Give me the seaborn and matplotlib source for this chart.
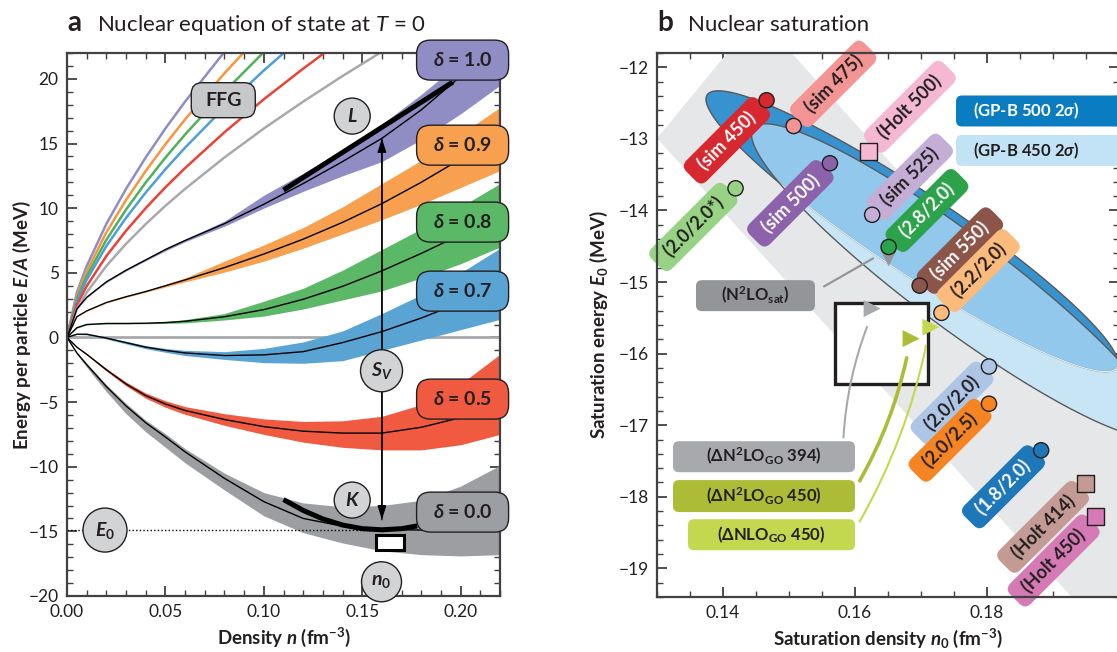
import numpy as np
import pandas as pd
import matplotlib
matplotlib.use("Agg")
import matplotlib.pyplot as plt
import matplotlib.transforms as mtransforms
from matplotlib.patches import FancyBboxPatch, Circle, Rectangle, Polygon, FancyArrowPatch
from matplotlib.ticker import MultipleLocator, FixedLocator, FormatStrFormatter
import seaborn as sns

FONT = "Lato"
sns.set_theme(style="ticks")
plt.rcParams["font.family"] = [FONT, "DejaVu Sans"]
plt.rcParams.update({
    "mathtext.fontset": "custom",
    "mathtext.rm": f"{FONT}:bold",
    "mathtext.bf": f"{FONT}:bold",
    "mathtext.it": f"{FONT}:italic:bold",
    "mathtext.sf": f"{FONT}:italic",
    "axes.unicode_minus": True,
})
INK = "#231f20"
AXIS = "#414042"

# ---------------------------------------------------------------- panel a data
density = [0.0, 0.005, 0.01, 0.02, 0.03, 0.04, 0.05, 0.06, 0.08, 0.10, 0.12, 0.14, 0.16, 0.18, 0.20, 0.22]

# energy per particle (MeV): central curve and uncertainty band for each asymmetry
ea_d10 = [0, 2.2, 3.1, 4.3, 5.2, 6.0, 6.8, 7.5, 8.8, 10.3, 11.9, 13.6, 15.4, 17.6, 20.2, 22.9]
lo_d10 = [0, 2.17, 3.06, 4.25, 5.14, 5.93, 6.7, 7.4, 8.6, 10.0, 11.3, 12.5, 13.6, 15.3, 17.3, 19.5]
hi_d10 = [0, 2.23, 3.14, 4.35, 5.26, 6.07, 6.9, 7.6, 9.0, 11.0, 12.7, 14.5, 16.5, 18.8, 21.3, 24.0]

ea_d09 = [0, 1.6, 2.05, 2.7, 3.15, 3.55, 4.0, 4.45, 5.4, 6.45, 7.6, 8.9, 10.35, 12.0, 13.8, 15.6]
lo_d09 = [0, 1.59, 2.03, 2.67, 3.1, 3.5, 3.9, 4.3, 5.05, 5.9, 6.9, 8.0, 9.1, 10.3, 11.6, 12.9]
hi_d09 = [0, 1.61, 2.07, 2.73, 3.2, 3.6, 4.1, 4.6, 5.9, 7.15, 8.5, 10.1, 11.9, 13.7, 15.7, 17.8]

ea_d08 = [0, 0.75, 1.0, 1.08, 1.08, 1.1, 1.15, 1.25, 1.6, 2.15, 2.95, 3.95, 5.15, 6.5, 7.95, 9.5]
lo_d08 = [0, 0.72, 0.97, 1.05, 1.05, 1.06, 1.08, 1.12, 1.35, 1.65, 2.2, 2.9, 3.6, 4.6, 5.7, 7.0]
hi_d08 = [0, 0.78, 1.03, 1.11, 1.11, 1.14, 1.22, 1.38, 1.85, 2.8, 3.8, 5.2, 6.8, 8.4, 10.1, 11.9]

ea_d07 = [0, 0.25, 0.25, -0.05, -0.4, -0.75, -1.0, -1.2, -1.4, -1.35, -1.1, -0.4, 0.45, 1.5, 2.7, 4.0]
lo_d07 = [0, 0.22, 0.2, -0.12, -0.5, -0.87, -1.15, -1.4, -1.7, -1.95, -2.0, -1.8, -1.0, -0.2, 0.6, 1.4]
hi_d07 = [0, 0.28, 0.3, 0.02, -0.3, -0.63, -0.85, -1.0, -1.1, -0.85, -0.35, 0.5, 1.85, 3.3, 5.0, 6.9]

ea_d05 = [0, -0.75, -1.3, -2.5, -3.6, -4.5, -5.15, -5.65, -6.35, -6.9, -7.25, -7.4, -7.4, -6.95, -6.2, -5.3]
lo_d05 = [0, -0.78, -1.35, -2.6, -3.75, -4.7, -5.4, -5.95, -6.8, -7.5, -8.1, -8.5, -8.7, -8.7, -8.3, -7.5]
hi_d05 = [0, -0.72, -1.25, -2.4, -3.45, -4.3, -4.9, -5.35, -5.9, -6.3, -6.5, -6.45, -6.1, -5.2, -3.6, -1.3]

ea_d00 = [0, -1.2, -2.1, -3.8, -5.3, -6.6, -7.7, -8.85, -10.9, -12.7, -14.0, -14.6, -14.85, -14.9, -14.6, -13.9]
lo_d00 = [0, -1.3, -2.3, -4.2, -5.9, -7.3, -8.5, -9.7, -11.8, -13.8, -15.1, -15.9, -16.5, -16.8, -16.9, -16.8]
hi_d00 = [0, -1.15, -2.0, -3.65, -5.1, -6.4, -7.45, -8.6, -10.5, -12.0, -12.8, -13.1, -13.0, -12.6, -11.5, -9.9]

# free Fermi gas energies (MeV)
ffg_d10 = [0, 3.48, 5.52, 8.78, 11.49, 13.92, 16.16, 18.24, 22.09, 25.65, 28.95, 32.09, 35.07, 37.95, 40.69, 43.37]
ffg_d09 = [0, 3.21, 5.11, 8.12, 10.63, 12.87, 14.94, 16.87, 20.43, 23.72, 26.78, 29.68, 32.44, 35.10, 37.64, 40.12]
ffg_d08 = [0, 2.99, 4.75, 7.55, 9.89, 11.98, 13.91, 15.70, 19.01, 22.07, 24.92, 27.62, 30.19, 32.66, 35.02, 37.33]
ffg_d07 = [0, 2.80, 4.45, 7.07, 9.25, 11.21, 13.01, 14.68, 17.79, 20.65, 23.31, 25.84, 28.24, 30.56, 32.77, 34.93]
ffg_d05 = [0, 2.50, 3.97, 6.30, 8.25, 10.00, 11.61, 13.10, 15.87, 18.42, 20.79, 23.05, 25.19, 27.26, 29.23, 31.16]
ffg_d00 = [0, 2.19, 3.48, 5.53, 7.24, 8.77, 10.18, 11.49, 13.92, 16.16, 18.24, 20.22, 22.10, 23.91, 25.64, 27.33]

deltas = [1.0, 0.9, 0.8, 0.7, 0.5, 0.0]
delta_labels = ["1.0", "0.9", "0.8", "0.7", "0.5", "0.0"]

# slope (L) and curvature (K) segments, saturation point
l_line_n = [0.11, 0.196]
l_line_E = [11.4, 19.75]
k_line_n = [0.11, 0.12, 0.13, 0.14, 0.15, 0.16, 0.17, 0.178]
k_line_E = [-12.54, -13.38, -14.04, -14.51, -14.79, -14.88, -14.79, -14.58]
sat_density = 0.16
sat_energy = -14.88
sv_arrow_E = [-14.1, 15.4]

# empirical saturation region
emp_n0 = [0.157, 0.171]
emp_E0 = [-16.43, -15.29]

# ---------------------------------------------------------------- panel b data
coester_n = [0.130, 0.1453, 0.2307, 0.1987]
coester_E = [-12.99, -11.28, -20.0, -20.0]

gpb500_mean = [0.16864, -14.29]
gpb500_cov = [[0.0002436, -0.01439], [-0.01439, 0.9621]]
gpb450_mean = [0.17548, -14.98]
gpb450_cov = [[0.0002428, -0.0159], [-0.0159, 1.200]]

sat_names = ["(sim 450)", "(sim 475)", "(Holt 500)", "(sim 500)", "(2.0/2.0*)", "(sim 525)",
             "(2.8/2.0)", "(sim 550)", "(2.2/2.0)", "(2.0/2.0)", "(2.0/2.5)", "(1.8/2.0)",
             "(Holt 414)", "(Holt 450)"]
sat_n0 = [0.1466, 0.1507, 0.1621, 0.1562, 0.1419, 0.1626, 0.1651, 0.1698, 0.1731, 0.1803,
          0.1803, 0.1882, 0.1949, 0.1964]
sat_E0 = [-12.46, -12.82, -13.17, -13.34, -13.69, -14.06, -14.51, -15.05, -15.43, -16.18,
          -16.70, -17.35, -17.81, -18.28]
sat_kind = ["o", "o", "s", "o", "o", "o", "o", "o", "o", "o", "o", "o", "s", "s"]

delta_names = ["(N$^2$LO$_{\\mathrm{sat}}$)", "($\\Delta$N$^2$LO$_{\\mathrm{GO}}$ 394)",
               "($\\Delta$N$^2$LO$_{\\mathrm{GO}}$ 450)", "($\\Delta$NLO$_{\\mathrm{GO}}$ 450)"]
delta_n0 = [0.1651, 0.1626, 0.1685, 0.1715]
delta_E0 = [-14.66, -15.37, -15.79, -15.63]

# ---------------------------------------------------------------- styling
band_colors = ["#8f8dc4", "#f7a04f", "#5bb867", "#5aa4d4", "#f05a41", "#9c9ea1"]
ffg_colors = ["#8f8dc4", "#f7963f", "#4fb15a", "#4e9fd8", "#ed4136", "#a7a9ac"]

sat_colors = ["#d7282f", "#f49595", "#f5b8d3", "#8c62aa", "#98d285", "#c5aed5", "#2ca24a",
              "#8b5549", "#fbbb7c", "#adc6e5", "#f58423", "#1e77b8", "#c49b94", "#d57ab5"]
sat_text = ["w", "k", "k", "w", "k", "k", "w", "w", "k", "k", "k", "w", "k", "k"]
sat_label_pos = [(0.1406, -13.02), (0.1567, -12.23), (0.1683, -12.55), (0.1502, -13.90),
                 (0.1355, -14.23), (0.1683, -13.53), (0.1709, -14.00), (0.1759, -14.56),
                 (0.1787, -14.84), (0.1747, -16.69), (0.1744, -17.21), (0.1825, -17.86),
                 (0.1885, -18.42), (0.1901, -18.89)]
delta_colors = ["#939598", "#a7a9ac", "#adbc36", "#c3d84e"]
delta_markers = ["v", ">", ">", ">"]

W, H = 1117, 652
fig = plt.figure(figsize=(W / 100, H / 100), dpi=100)


def rect(l, t, r, b):
    return [l / W, 1 - b / H, (r - l) / W, (b - t) / H]


axa = fig.add_axes(rect(67, 53, 500, 596))
axb = fig.add_axes(rect(657, 53, 1119, 597))


def anchored_box(ax, x, y, w, h, r, fc, ec=INK, lw=1.0, z=8, coords=None):
    dpi = ax.figure.dpi
    base = ax.transData if coords is None else coords
    tr = ax.figure.dpi_scale_trans + mtransforms.ScaledTranslation(x, y, base)
    p = FancyBboxPatch((-w / 2 / dpi, -h / 2 / dpi), w / dpi, h / dpi,
                       boxstyle=f"round,pad=0,rounding_size={r / dpi}",
                       transform=tr, fc=fc, ec=ec, lw=lw, zorder=z, clip_on=False)
    ax.add_artist(p)
    return p


def anchored_circle(ax, x, y, r, fc="#d1d3d4", z=8):
    dpi = ax.figure.dpi
    tr = ax.figure.dpi_scale_trans + mtransforms.ScaledTranslation(x, y, ax.transData)
    c = Circle((0, 0), r / dpi, transform=tr, fc=fc, ec=INK, lw=1.0, zorder=z, clip_on=False)
    ax.add_artist(c)


# ================================================================ panel a
centers = [ea_d10, ea_d09, ea_d08, ea_d07, ea_d05, ea_d00]
lowers = [lo_d10, lo_d09, lo_d08, lo_d07, lo_d05, lo_d00]
uppers = [hi_d10, hi_d09, hi_d08, hi_d07, hi_d05, hi_d00]
ffgs = [ffg_d10, ffg_d09, ffg_d08, ffg_d07, ffg_d05, ffg_d00]

axa.axhline(0, color="#a7a9ac", lw=2.0, zorder=1)
for lo, hi, c in zip(lowers, uppers, band_colors):
    axa.fill_between(density, lo, hi, color=c, lw=0, zorder=2)

ffg_df = pd.DataFrame({
    "n": np.tile(density, len(deltas)),
    "E": np.concatenate(ffgs),
    "delta": np.repeat(delta_labels, len(density)),
})
sns.lineplot(data=ffg_df, x="n", y="E", hue="delta", palette=dict(zip(delta_labels, ffg_colors)),
             estimator=None, sort=False, lw=1.8, legend=False, ax=axa, zorder=3)

eos_df = pd.DataFrame({
    "n": np.tile(density, len(deltas)),
    "E": np.concatenate(centers),
    "delta": np.repeat(delta_labels, len(density)),
})
sns.lineplot(data=eos_df, x="n", y="E", units="delta", estimator=None, sort=False,
             color="black", lw=1.0, legend=False, ax=axa, zorder=4)

axa.plot(l_line_n, l_line_E, color="black", lw=3.6, solid_capstyle="butt", zorder=5)
axa.plot(k_line_n, k_line_E, color="black", lw=3.6, solid_capstyle="butt", zorder=5)
axa.plot([0, sat_density], [sat_energy, sat_energy], color="black", lw=1.0,
         ls=(0, (1, 1.6)), zorder=5)
axa.add_patch(Rectangle((emp_n0[0], emp_E0[0]), emp_n0[1] - emp_n0[0], emp_E0[1] - emp_E0[0],
                        fc="white", ec="black", lw=2.2, zorder=6))
for a, b in [(0, 1), (1, 0)]:
    axa.annotate("", xy=(sat_density, sv_arrow_E[b]), xytext=(sat_density, sv_arrow_E[a]),
                 arrowprops=dict(arrowstyle="-|>,head_length=0.7,head_width=0.22",
                                 color="black", lw=1.0, shrinkA=0, shrinkB=0), zorder=6)

# delta tags at the right border
tag_E = [21.45, 14.87, 8.92, 3.58, -4.77, -13.51]
for lab, c, e in zip(delta_labels, band_colors, tag_E):
    anchored_box(axa, 0.201, e, 92, 40, 14, c, z=9)
    axa.text(0.201, e, f"$\\delta$ = {lab}", ha="center", va="center", fontsize=14,
             fontweight="bold", color=INK, zorder=10, clip_on=False)

anchored_box(axa, 0.0794, 18.35, 64, 35, 11, "#c7c8ca", z=9)
axa.text(0.0794, 18.35, "FFG", ha="center", va="center", fontsize=14, fontweight="bold",
         color=INK, zorder=10)

for txt, x, y, r in [("$L$", 0.1449, 17.12, 18), ("$S_V$", 0.1598, -2.58, 21),
                     ("$K$", 0.1449, -12.58, 18), ("$E_0$", 0.0193, -14.9, 22),
                     ("$n_0$", 0.1598, -18.9, 20)]:
    anchored_circle(axa, x, y, r, z=9)
    axa.text(x, y, txt, ha="center", va="center", fontsize=14, color=INK, zorder=10,
             clip_on=False)

axa.set_xlim(0, 0.22)
axa.set_ylim(-20, 22)
axa.xaxis.set_major_locator(MultipleLocator(0.05))
axa.xaxis.set_minor_locator(MultipleLocator(0.01))
axa.xaxis.set_major_formatter(FormatStrFormatter("%.2f"))
axa.yaxis.set_major_locator(MultipleLocator(5))
axa.yaxis.set_minor_locator(MultipleLocator(1))
axa.set_xlabel("Density $n$ (fm$^{-3}$)", fontsize=13.5, fontweight="bold", color=INK)
axa.set_ylabel("Energy per particle $E/A$ (MeV)", fontsize=13.5, fontweight="bold", color=INK)
axa.xaxis.set_label_coords(0.5, -0.055)
axa.yaxis.set_label_coords(-0.078, 0.5)

# ================================================================ panel b
axb.add_patch(Polygon(np.column_stack([coester_n, coester_E]), closed=True, fc="#e6e7e8",
                      ec="none", zorder=1))


def ellipse_points(mean, cov, nsig=2.0, num=300):
    vals, vecs = np.linalg.eigh(np.asarray(cov))
    t = np.linspace(0, 2 * np.pi, num)
    circ = np.vstack([np.cos(t), np.sin(t)])
    pts = vecs @ (nsig * np.sqrt(vals)[:, None] * circ)
    return pts.T + np.asarray(mean)


p500 = ellipse_points(gpb500_mean, gpb500_cov)
p450 = ellipse_points(gpb450_mean, gpb450_cov)
axb.add_patch(Polygon(p500, closed=True, fc="#3792d0", ec="none", zorder=2))
e450 = axb.add_patch(Polygon(p450, closed=True, fc="#c8e5f6", ec="none", zorder=2.1))
overlap = axb.add_patch(Polygon(p500, closed=True, fc="#92c8eb", ec="none", zorder=2.2))
overlap.set_clip_path(e450)
axb.add_patch(Polygon(p500, closed=True, fill=False, ec="#58595b", lw=1.0, zorder=2.3))
faint = axb.add_patch(Polygon(p500, closed=True, fill=False, ec="#dcedf9", lw=1.0, zorder=2.4))
faint.set_clip_path(e450)
axb.add_patch(Polygon(p450, closed=True, fill=False, ec="#58595b", lw=1.0, zorder=2.5))

axb.add_patch(Rectangle((emp_n0[0], emp_E0[0]), emp_n0[1] - emp_n0[0], emp_E0[1] - emp_E0[0],
                        fc="white", ec="#231f20", lw=2.4, zorder=3))

# connectors from the Delta-full labels
for (x0, y0), (x1, y1), c, lw, rad in [((0.15495, -15.08), (0.16311, -14.65), "#939598", 1.6, 0.0),
                                       ((0.15823, -17.21), (0.16197, -15.59), "#a7a9ac", 1.5, -0.08),
                                       ((0.1605, -17.81), (0.16792, -16.02), "#adbc36", 2.6, 0.08),
                                       ((0.1605, -18.38), (0.17086, -15.85), "#c3d84e", 1.5, 0.08)]:
    axb.add_patch(FancyArrowPatch((x0, y0), (x1, y1), arrowstyle="-", color=c, lw=lw,
                                  connectionstyle=f"arc3,rad={rad}", zorder=4))

for name, c, tc, (x, y) in zip(sat_names, sat_colors, sat_text, sat_label_pos):
    axb.text(x, y, f"  {name}  ", rotation=45, rotation_mode="anchor", ha="center",
             va="center", fontsize=13, fontweight="bold",
             color="white" if tc == "w" else INK, zorder=5,
             bbox=dict(boxstyle="round,pad=0.3,rounding_size=0.45", fc=c, ec="none"))

for i in range(len(delta_names)):
    sns.scatterplot(x=[delta_n0[i]], y=[delta_E0[i]], marker=delta_markers[i], s=150,
                    color=delta_colors[i], edgecolor="none", linewidth=0, ax=axb,
                    legend=False, zorder=6)

sat_df = pd.DataFrame({"name": sat_names, "n0": sat_n0, "E0": sat_E0, "kind": sat_kind})
pal = dict(zip(sat_names, sat_colors))
sns.scatterplot(data=sat_df[sat_df.kind == "o"], x="n0", y="E0", hue="name", palette=pal,
                marker="o", s=120, edgecolor=INK, linewidth=1.0, legend=False, ax=axb, zorder=7)
sns.scatterplot(data=sat_df[sat_df.kind == "s"], x="n0", y="E0", hue="name", palette=pal,
                marker="s", s=150, edgecolor=INK, linewidth=1.0, legend=False, ax=axb, zorder=7)

# horizontal tags
hbox = [(0.14492, -15.19, 119, 31), (0.14621, -17.44, 182, 31), (0.14621, -17.99, 182, 32),
        (0.14735, -18.53, 167, 31)]
for (x, y, w, h), name, c in zip(hbox, delta_names, delta_colors):
    anchored_box(axb, x, y, w, h, 6, c, ec="none", z=8)
    axb.text(x, y, name, ha="center", va="center", fontsize=12, fontweight="bold", color=INK,
             zorder=9)

for y, name, c, tc in [(0.8934, "(GP-B 500 2$\\sigma$)", "#0a7cc1", "white"),
                       (0.8208, "(GP-B 450 2$\\sigma$)", "#c2e3f6", INK)]:
    anchored_box(axb, 0.8355, y, 174, 31, 6, c, ec="none", z=8, coords=axb.transAxes)
    axb.text(0.7998, y, name, transform=axb.transAxes, ha="center", va="center", fontsize=12,
             fontweight="bold", color=tc, zorder=9)

axb.set_xlim(0.13, 0.20)
axb.set_ylim(-19.4, -11.8)
axb.xaxis.set_major_locator(FixedLocator([0.14, 0.16, 0.18]))
axb.xaxis.set_minor_locator(MultipleLocator(0.005))
axb.xaxis.set_major_formatter(FormatStrFormatter("%.2f"))
axb.yaxis.set_major_locator(MultipleLocator(1))
axb.yaxis.set_minor_locator(MultipleLocator(0.2))
axb.set_xlabel("Saturation density $n_0$ (fm$^{-3}$)", fontsize=13.5, fontweight="bold", color=INK)
axb.set_ylabel("Saturation energy $E_0$ (MeV)", fontsize=13.5, fontweight="bold", color=INK)
axb.xaxis.set_label_coords(0.5, -0.055)
axb.yaxis.set_label_coords(-0.102, 0.5)

for ax in (axa, axb):
    for s in ax.spines.values():
        s.set_color(AXIS)
        s.set_linewidth(1.6)
        s.set_zorder(8.5)
    ax.tick_params(which="both", direction="in", top=True, right=True, color=AXIS,
                   labelsize=12.5, labelcolor=INK)
    ax.tick_params(which="major", length=7, width=1.3, pad=6)
    ax.tick_params(which="minor", length=4, width=1.0)

fig.text(67 / W, 1 - 31 / H, "a", fontsize=20, fontweight="bold", color=INK, va="baseline")
fig.text(97 / W, 1 - 31 / H, "Nuclear equation of state at $\\mathsf{T}$ = 0", fontsize=16,
         color=INK, va="baseline")
fig.text(657 / W, 1 - 31 / H, "b", fontsize=20, fontweight="bold", color=INK, va="baseline")
fig.text(688 / W, 1 - 31 / H, "Nuclear saturation", fontsize=16, color=INK, va="baseline")

fig.savefig("out.png", dpi=100)
